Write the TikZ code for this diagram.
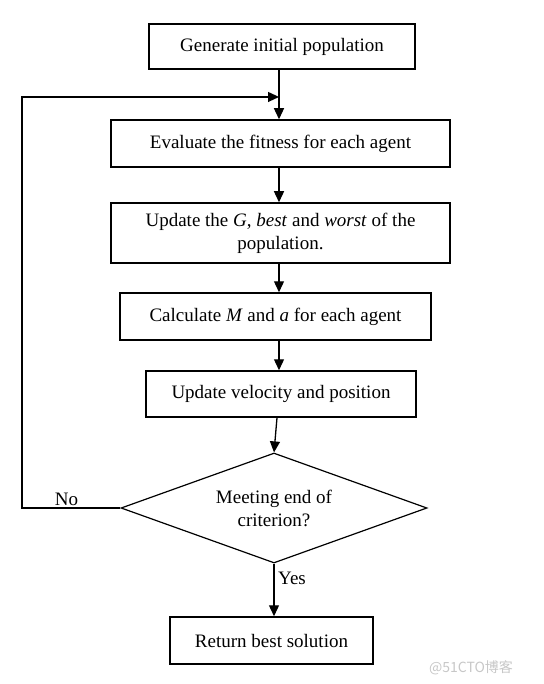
\documentclass[tikz,border=0pt]{standalone}
\usepackage{fontspec}
\setmainfont{Liberation Serif}
\newfontfamily\cjkfont{Noto Sans CJK SC}
\usetikzlibrary{shapes.geometric,arrows.meta,calc}

\begin{document}
\begin{tikzpicture}[x=1pt,y=-1pt,font=\fontsize{19}{23}\selectfont,
		stepbox/.style={draw,line width=1.5pt,inner sep=0pt,align=center},
		decbox/.style={draw,diamond,aspect=2.78,line width=1.2pt,inner sep=0pt,align=center,
			minimum width=306pt,minimum height=110pt},
		flow/.style={line width=1.3pt,-{Triangle[length=11pt,width=10pt]}}]
				\useasboundingbox (0,0) rectangle (543,684);
				%\draw[help lines] (0,0) grid[step=50] (543,684);
				
				\node[stepbox,minimum width=266pt,minimum height=45pt] (init) at (282,46.5) {Generate initial population};
				\node[stepbox,minimum width=339pt,minimum height=47pt] (fit) at (280.5,143.5) {Evaluate the fitness for each agent};
				\node[stepbox,minimum width=339pt,minimum height=60pt] (upd) at (280.5,233) {Update the \textit{G}, \textit{best} and \textit{worst} of the\\population.};
				\node[stepbox,minimum width=311pt,minimum height=47pt] (calc) at (275.5,316.5) {Calculate \textit{M} and \textit{a} for each agent};
				\node[stepbox,minimum width=270pt,minimum height=46pt] (move) at (281,394) {Update velocity and position};
				\node[decbox] (crit) at (274,508) {Meeting end of\\criterion?};
				\node[stepbox,minimum width=203pt,minimum height=47pt] (ret) at (271.5,640.5) {Return best solution};
				
				\coordinate (a1) at (279,0);
				\coordinate (merge) at ($(a1|-init.south)!.55!(a1|-fit.north)$);
				\coordinate (back) at (22,508);
				
				\draw[flow] (a1|-init.south) -- (a1|-fit.north);
				\draw[flow] (a1|-fit.south) -- (a1|-upd.north);
				\draw[flow] (a1|-upd.south) -- (a1|-calc.north);
				\draw[flow] (a1|-calc.south) -- (a1|-move.north);
				\draw[flow] (move.south-|277,0) -- (crit.north);
				\draw[flow] (crit.south) -- (crit.south|-ret.north);
				\draw[flow] (crit.west) -- (back) |- (merge);
				
				\node (no) at (66.5,499) {No};
				\node[anchor=west,inner sep=0pt] (yes) at (278,578) {Yes};
				\node[text=black!22,font=\cjkfont\fontsize{14}{16}\selectfont] (mark) at (471,668) {@51CTO博客};
			\end{tikzpicture}
\end{document}
